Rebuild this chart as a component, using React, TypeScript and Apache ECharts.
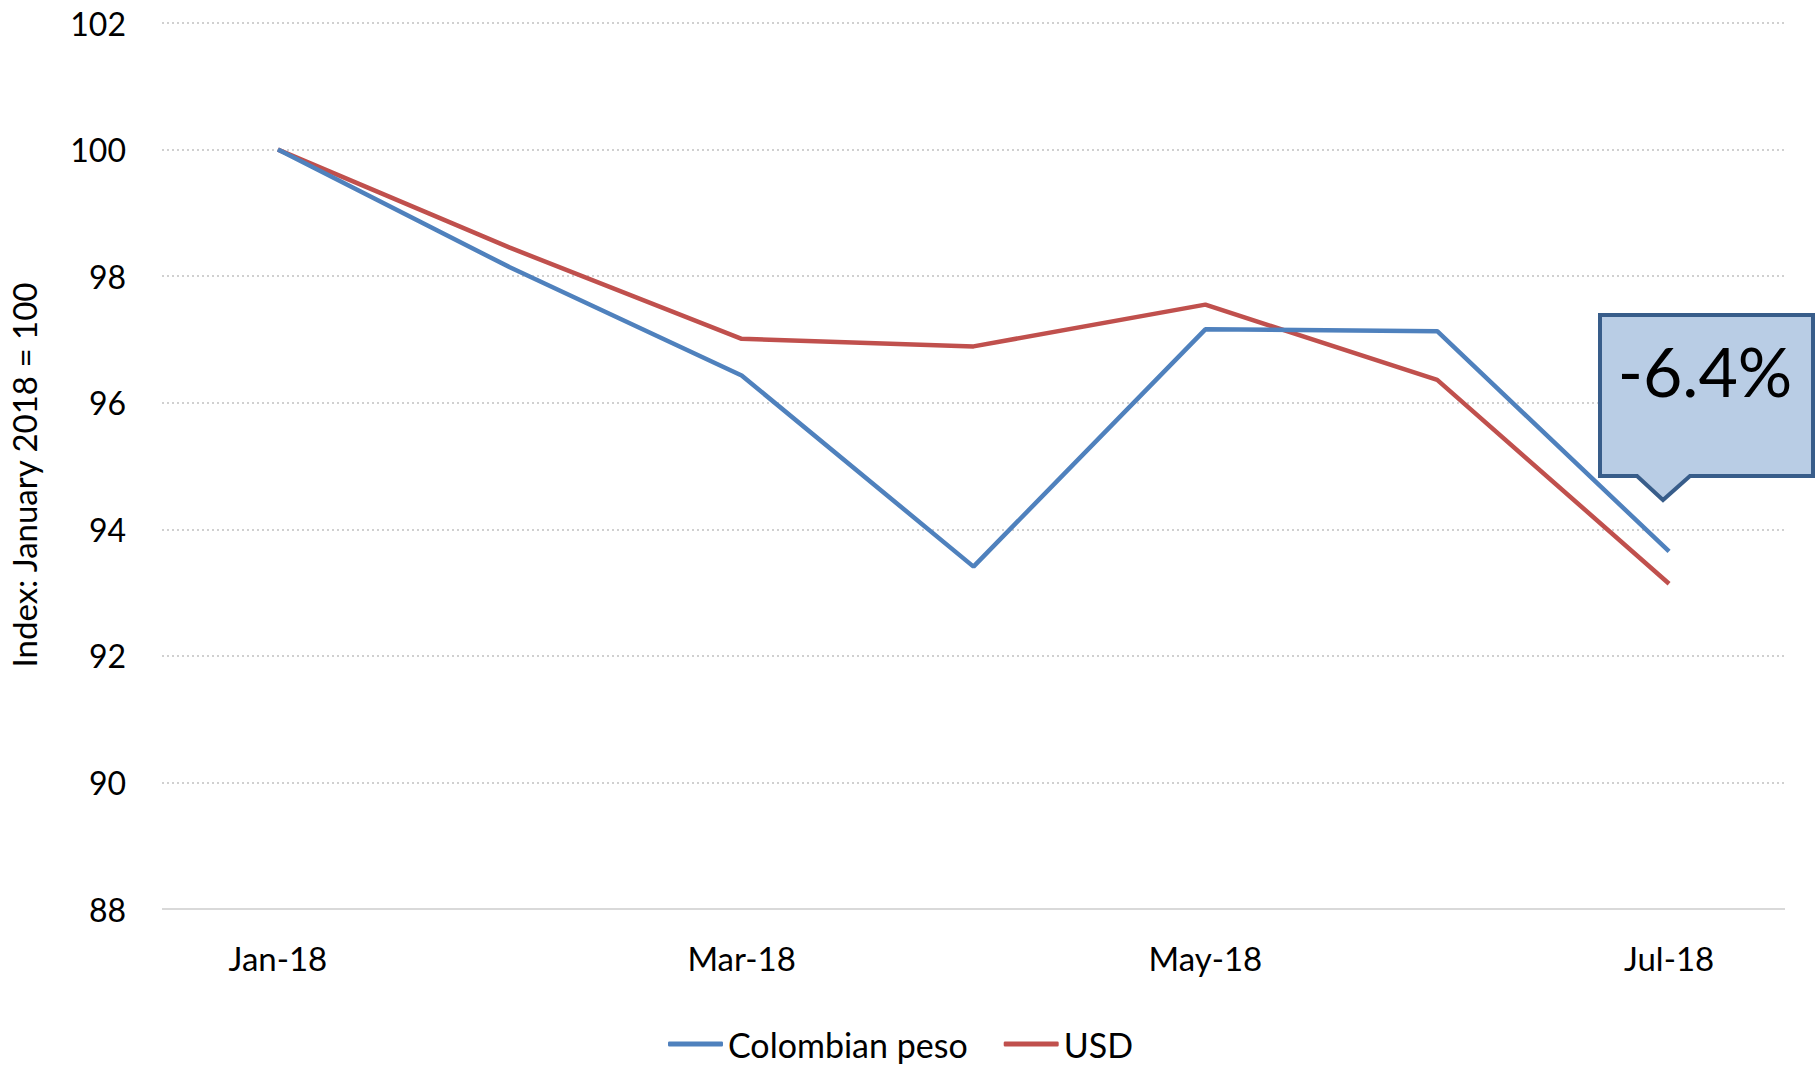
import React, { useEffect, useRef } from "react";
import * as echarts from "echarts";

const categories = ["Jan-18", "Feb-18", "Mar-18", "Apr-18", "May-18", "Jun-18", "Jul-18"];
const colombianPeso = [100, 98.14, 96.43, 93.41, 97.16, 97.13, 93.65];
const usd = [100, 98.45, 97.01, 96.89, 97.55, 96.36, 93.14];
const yTicks = { min: 88, max: 102, interval: 2 };
const calloutText = "-6.4%";
const yTitle = "Index: January 2018 = 100";

const FONT = "Lato, 'Open Sans', sans-serif";

export default function App() {
  const ref = useRef<HTMLDivElement>(null);
  useEffect(() => {
    if (!ref.current) return;
    const chart = echarts.init(ref.current, null, { renderer: "svg" });
    chart.setOption({
      animation: false,
      backgroundColor: "#ffffff",
      textStyle: { fontFamily: FONT },
      grid: { left: 162, right: 31, top: 23, bottom: 157, outerBoundsMode: "none", containLabel: false },
      legend: {
        left: 663,
        bottom: 0,
        itemWidth: 55,
        itemHeight: 5,
        itemGap: 36,
        icon: "roundRect",
        textStyle: { fontSize: 34, color: "#000", fontFamily: FONT },
        data: ["Colombian peso", "USD"],
      },
      xAxis: {
        type: "category",
        data: categories,
        boundaryGap: true,
        axisLine: { show: false },
        axisTick: { show: false },
        axisLabel: { interval: 1, fontSize: 33, color: "#000", margin: 32, fontFamily: FONT },
        splitLine: { show: false },
      },
      yAxis: {
        type: "value",
        min: yTicks.min,
        max: yTicks.max,
        interval: yTicks.interval,
        name: yTitle,
        nameLocation: "middle",
        nameGap: 122,
        nameTextStyle: { fontSize: 33, color: "#000", fontFamily: FONT, padding: [0, 18, 0, 0] },
        axisLine: { show: false },
        axisTick: { show: false },
        axisLabel: { fontSize: 32, color: "#000", margin: 36, fontFamily: FONT },
        splitLine: {
          show: true,
          lineStyle: { color: "#D0D0D0", width: 2, type: [2, 3] },
        },
      },
      series: [
        {
          name: "Colombian peso",
          type: "line",
          data: colombianPeso,
          symbol: "none",
          lineStyle: { color: "#4F81BD", width: 4.5 },
          itemStyle: { color: "#4F81BD" },
          z: 3,
        },
        {
          name: "USD",
          type: "line",
          data: usd,
          symbol: "none",
          lineStyle: { color: "#C0504D", width: 4.5 },
          itemStyle: { color: "#C0504D" },
          z: 2,
          markLine: {
            silent: true,
            symbol: "none",
            label: { show: false },
            lineStyle: { color: "#D9D9D9", width: 2, type: "solid" },
            data: [{ yAxis: yTicks.min }],
          },
        },
      ],
      graphic: [
        {
          type: "polygon",
          z: 100,
          shape: {
            points: [
              [1600, 315],
              [1813, 315],
              [1813, 476],
              [1690, 476],
              [1663, 500],
              [1637, 476],
              [1600, 476],
            ],
          },
          style: { fill: "#B9CDE5", stroke: "#385D8A", lineWidth: 4, lineJoin: "miter" },
        },
        {
          type: "text",
          z: 101,
          x: 1705,
          y: 370,
          style: {
            text: calloutText,
            fontSize: 68,
            fontFamily: FONT,
            fill: "#000",
            align: "center",
            verticalAlign: "middle",
          },
        },
      ],
    });
    return () => chart.dispose();
  }, []);
  return <div ref={ref} style={{ width: 1816, height: 1066, position: "absolute", left: 0, top: 0 }} />;
}
